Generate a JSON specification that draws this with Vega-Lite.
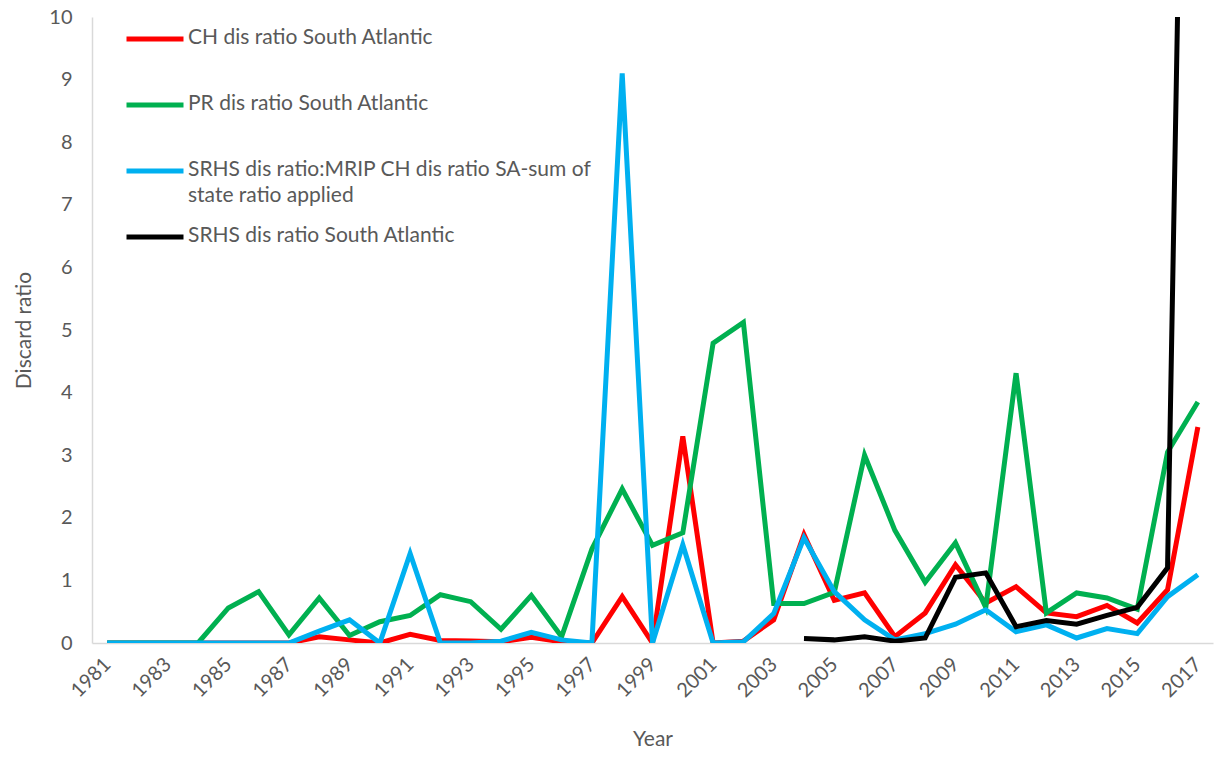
{
  "$schema": "https://vega.github.io/schema/vega-lite/v6.json",
  "width": 1121,
  "height": 626,
  "autosize": {"type": "none"},
  "padding": {"left": 92, "top": 17, "right": 4, "bottom": 114},
  "background": "white",
  "config": {
    "view": {"stroke": null},
    "font": "Lato, sans-serif"
  },
  "data": {
    "values": [
      {"year":1981,"series":"CH dis ratio South Atlantic","value":0},
      {"year":1982,"series":"CH dis ratio South Atlantic","value":0},
      {"year":1983,"series":"CH dis ratio South Atlantic","value":0},
      {"year":1984,"series":"CH dis ratio South Atlantic","value":0},
      {"year":1985,"series":"CH dis ratio South Atlantic","value":0},
      {"year":1986,"series":"CH dis ratio South Atlantic","value":0},
      {"year":1987,"series":"CH dis ratio South Atlantic","value":0},
      {"year":1988,"series":"CH dis ratio South Atlantic","value":0.1},
      {"year":1989,"series":"CH dis ratio South Atlantic","value":0.05},
      {"year":1990,"series":"CH dis ratio South Atlantic","value":0},
      {"year":1991,"series":"CH dis ratio South Atlantic","value":0.14},
      {"year":1992,"series":"CH dis ratio South Atlantic","value":0.04},
      {"year":1993,"series":"CH dis ratio South Atlantic","value":0.03},
      {"year":1994,"series":"CH dis ratio South Atlantic","value":0.02},
      {"year":1995,"series":"CH dis ratio South Atlantic","value":0.09},
      {"year":1996,"series":"CH dis ratio South Atlantic","value":0.02},
      {"year":1997,"series":"CH dis ratio South Atlantic","value":0},
      {"year":1998,"series":"CH dis ratio South Atlantic","value":0.74},
      {"year":1999,"series":"CH dis ratio South Atlantic","value":0},
      {"year":2000,"series":"CH dis ratio South Atlantic","value":3.3},
      {"year":2001,"series":"CH dis ratio South Atlantic","value":0},
      {"year":2002,"series":"CH dis ratio South Atlantic","value":0.03},
      {"year":2003,"series":"CH dis ratio South Atlantic","value":0.37},
      {"year":2004,"series":"CH dis ratio South Atlantic","value":1.73},
      {"year":2005,"series":"CH dis ratio South Atlantic","value":0.68},
      {"year":2006,"series":"CH dis ratio South Atlantic","value":0.8},
      {"year":2007,"series":"CH dis ratio South Atlantic","value":0.1},
      {"year":2008,"series":"CH dis ratio South Atlantic","value":0.48},
      {"year":2009,"series":"CH dis ratio South Atlantic","value":1.25},
      {"year":2010,"series":"CH dis ratio South Atlantic","value":0.64},
      {"year":2011,"series":"CH dis ratio South Atlantic","value":0.9},
      {"year":2012,"series":"CH dis ratio South Atlantic","value":0.48},
      {"year":2013,"series":"CH dis ratio South Atlantic","value":0.42},
      {"year":2014,"series":"CH dis ratio South Atlantic","value":0.6},
      {"year":2015,"series":"CH dis ratio South Atlantic","value":0.32},
      {"year":2016,"series":"CH dis ratio South Atlantic","value":0.85},
      {"year":2017,"series":"CH dis ratio South Atlantic","value":3.45},

      {"year":1981,"series":"PR dis ratio South Atlantic","value":0},
      {"year":1982,"series":"PR dis ratio South Atlantic","value":0},
      {"year":1983,"series":"PR dis ratio South Atlantic","value":0},
      {"year":1984,"series":"PR dis ratio South Atlantic","value":0},
      {"year":1985,"series":"PR dis ratio South Atlantic","value":0.56},
      {"year":1986,"series":"PR dis ratio South Atlantic","value":0.82},
      {"year":1987,"series":"PR dis ratio South Atlantic","value":0.13},
      {"year":1988,"series":"PR dis ratio South Atlantic","value":0.72},
      {"year":1989,"series":"PR dis ratio South Atlantic","value":0.12},
      {"year":1990,"series":"PR dis ratio South Atlantic","value":0.34},
      {"year":1991,"series":"PR dis ratio South Atlantic","value":0.44},
      {"year":1992,"series":"PR dis ratio South Atlantic","value":0.77},
      {"year":1993,"series":"PR dis ratio South Atlantic","value":0.66},
      {"year":1994,"series":"PR dis ratio South Atlantic","value":0.22},
      {"year":1995,"series":"PR dis ratio South Atlantic","value":0.76},
      {"year":1996,"series":"PR dis ratio South Atlantic","value":0.1},
      {"year":1997,"series":"PR dis ratio South Atlantic","value":1.5},
      {"year":1998,"series":"PR dis ratio South Atlantic","value":2.46},
      {"year":1999,"series":"PR dis ratio South Atlantic","value":1.56},
      {"year":2000,"series":"PR dis ratio South Atlantic","value":1.76},
      {"year":2001,"series":"PR dis ratio South Atlantic","value":4.79},
      {"year":2002,"series":"PR dis ratio South Atlantic","value":5.12},
      {"year":2003,"series":"PR dis ratio South Atlantic","value":0.63},
      {"year":2004,"series":"PR dis ratio South Atlantic","value":0.63},
      {"year":2005,"series":"PR dis ratio South Atlantic","value":0.81},
      {"year":2006,"series":"PR dis ratio South Atlantic","value":3.0},
      {"year":2007,"series":"PR dis ratio South Atlantic","value":1.8},
      {"year":2008,"series":"PR dis ratio South Atlantic","value":0.97},
      {"year":2009,"series":"PR dis ratio South Atlantic","value":1.6},
      {"year":2010,"series":"PR dis ratio South Atlantic","value":0.57},
      {"year":2011,"series":"PR dis ratio South Atlantic","value":4.31},
      {"year":2012,"series":"PR dis ratio South Atlantic","value":0.48},
      {"year":2013,"series":"PR dis ratio South Atlantic","value":0.8},
      {"year":2014,"series":"PR dis ratio South Atlantic","value":0.72},
      {"year":2015,"series":"PR dis ratio South Atlantic","value":0.54},
      {"year":2016,"series":"PR dis ratio South Atlantic","value":3.05},
      {"year":2017,"series":"PR dis ratio South Atlantic","value":3.85},

      {"year":1981,"series":"SRHS dis ratio:MRIP CH dis ratio SA-sum of state ratio applied","value":0},
      {"year":1982,"series":"SRHS dis ratio:MRIP CH dis ratio SA-sum of state ratio applied","value":0},
      {"year":1983,"series":"SRHS dis ratio:MRIP CH dis ratio SA-sum of state ratio applied","value":0},
      {"year":1984,"series":"SRHS dis ratio:MRIP CH dis ratio SA-sum of state ratio applied","value":0},
      {"year":1985,"series":"SRHS dis ratio:MRIP CH dis ratio SA-sum of state ratio applied","value":0},
      {"year":1986,"series":"SRHS dis ratio:MRIP CH dis ratio SA-sum of state ratio applied","value":0},
      {"year":1987,"series":"SRHS dis ratio:MRIP CH dis ratio SA-sum of state ratio applied","value":0},
      {"year":1988,"series":"SRHS dis ratio:MRIP CH dis ratio SA-sum of state ratio applied","value":0.19},
      {"year":1989,"series":"SRHS dis ratio:MRIP CH dis ratio SA-sum of state ratio applied","value":0.37},
      {"year":1990,"series":"SRHS dis ratio:MRIP CH dis ratio SA-sum of state ratio applied","value":0},
      {"year":1991,"series":"SRHS dis ratio:MRIP CH dis ratio SA-sum of state ratio applied","value":1.43},
      {"year":1992,"series":"SRHS dis ratio:MRIP CH dis ratio SA-sum of state ratio applied","value":0},
      {"year":1993,"series":"SRHS dis ratio:MRIP CH dis ratio SA-sum of state ratio applied","value":0},
      {"year":1994,"series":"SRHS dis ratio:MRIP CH dis ratio SA-sum of state ratio applied","value":0.03},
      {"year":1995,"series":"SRHS dis ratio:MRIP CH dis ratio SA-sum of state ratio applied","value":0.17},
      {"year":1996,"series":"SRHS dis ratio:MRIP CH dis ratio SA-sum of state ratio applied","value":0.05},
      {"year":1997,"series":"SRHS dis ratio:MRIP CH dis ratio SA-sum of state ratio applied","value":0},
      {"year":1998,"series":"SRHS dis ratio:MRIP CH dis ratio SA-sum of state ratio applied","value":9.1},
      {"year":1999,"series":"SRHS dis ratio:MRIP CH dis ratio SA-sum of state ratio applied","value":0},
      {"year":2000,"series":"SRHS dis ratio:MRIP CH dis ratio SA-sum of state ratio applied","value":1.57},
      {"year":2001,"series":"SRHS dis ratio:MRIP CH dis ratio SA-sum of state ratio applied","value":0},
      {"year":2002,"series":"SRHS dis ratio:MRIP CH dis ratio SA-sum of state ratio applied","value":0.02},
      {"year":2003,"series":"SRHS dis ratio:MRIP CH dis ratio SA-sum of state ratio applied","value":0.47},
      {"year":2004,"series":"SRHS dis ratio:MRIP CH dis ratio SA-sum of state ratio applied","value":1.68},
      {"year":2005,"series":"SRHS dis ratio:MRIP CH dis ratio SA-sum of state ratio applied","value":0.82},
      {"year":2006,"series":"SRHS dis ratio:MRIP CH dis ratio SA-sum of state ratio applied","value":0.37},
      {"year":2007,"series":"SRHS dis ratio:MRIP CH dis ratio SA-sum of state ratio applied","value":0.05},
      {"year":2008,"series":"SRHS dis ratio:MRIP CH dis ratio SA-sum of state ratio applied","value":0.15},
      {"year":2009,"series":"SRHS dis ratio:MRIP CH dis ratio SA-sum of state ratio applied","value":0.3},
      {"year":2010,"series":"SRHS dis ratio:MRIP CH dis ratio SA-sum of state ratio applied","value":0.53},
      {"year":2011,"series":"SRHS dis ratio:MRIP CH dis ratio SA-sum of state ratio applied","value":0.18},
      {"year":2012,"series":"SRHS dis ratio:MRIP CH dis ratio SA-sum of state ratio applied","value":0.29},
      {"year":2013,"series":"SRHS dis ratio:MRIP CH dis ratio SA-sum of state ratio applied","value":0.08},
      {"year":2014,"series":"SRHS dis ratio:MRIP CH dis ratio SA-sum of state ratio applied","value":0.23},
      {"year":2015,"series":"SRHS dis ratio:MRIP CH dis ratio SA-sum of state ratio applied","value":0.15},
      {"year":2016,"series":"SRHS dis ratio:MRIP CH dis ratio SA-sum of state ratio applied","value":0.74},
      {"year":2017,"series":"SRHS dis ratio:MRIP CH dis ratio SA-sum of state ratio applied","value":1.09},

      {"year":2004,"series":"SRHS dis ratio South Atlantic","value":0.07},
      {"year":2005,"series":"SRHS dis ratio South Atlantic","value":0.05},
      {"year":2006,"series":"SRHS dis ratio South Atlantic","value":0.1},
      {"year":2007,"series":"SRHS dis ratio South Atlantic","value":0.03},
      {"year":2008,"series":"SRHS dis ratio South Atlantic","value":0.08},
      {"year":2009,"series":"SRHS dis ratio South Atlantic","value":1.05},
      {"year":2010,"series":"SRHS dis ratio South Atlantic","value":1.12},
      {"year":2011,"series":"SRHS dis ratio South Atlantic","value":0.26},
      {"year":2012,"series":"SRHS dis ratio South Atlantic","value":0.36},
      {"year":2013,"series":"SRHS dis ratio South Atlantic","value":0.3},
      {"year":2014,"series":"SRHS dis ratio South Atlantic","value":0.44},
      {"year":2015,"series":"SRHS dis ratio South Atlantic","value":0.57},
      {"year":2016,"series":"SRHS dis ratio South Atlantic","value":1.2},
      {"year":2017,"series":"SRHS dis ratio South Atlantic","value":28}
    ]
  },
  "mark": {"type": "line", "strokeWidth": 5, "clip": true, "strokeJoin": "miter"},
  "encoding": {
    "x": {
      "field": "year",
      "type": "quantitative",
      "scale": {"domain": [1980.5, 2017.5], "nice": false, "zero": false},
      "axis": {
        "title": "Year",
        "values": [1981,1983,1985,1987,1989,1991,1993,1995,1997,1999,2001,2003,2005,2007,2009,2011,2013,2015,2017],
        "format": "d",
        "labelAngle": -45,
        "labelAlign": "right",
        "labelBaseline": "middle",
        "labelFontSize": 20,
        "labelColor": "#595959",
        "labelPadding": 18,
        "ticks": false,
        "grid": false,
        "domainColor": "#d9d9d9",
        "domainWidth": 1.5,
        "titleFontSize": 21,
        "titleFontWeight": "normal",
        "titleColor": "#595959",
        "titlePadding": 28
      }
    },
    "y": {
      "field": "value",
      "type": "quantitative",
      "scale": {"domain": [0, 10], "nice": false},
      "axis": {
        "title": "Discard ratio",
        "values": [0,1,2,3,4,5,6,7,8,9,10],
        "labelFontSize": 20,
        "labelColor": "#595959",
        "labelPadding": 20,
        "ticks": false,
        "grid": false,
        "domainColor": "#d9d9d9",
        "domainWidth": 1.5,
        "titleFontSize": 21,
        "titleFontWeight": "normal",
        "titleColor": "#595959",
        "titlePadding": 14
      }
    },
    "color": {
      "field": "series",
      "type": "nominal",
      "sort": ["CH dis ratio South Atlantic","PR dis ratio South Atlantic","SRHS dis ratio:MRIP CH dis ratio SA-sum of state ratio applied","SRHS dis ratio South Atlantic"],
      "scale": {
        "domain": ["CH dis ratio South Atlantic","PR dis ratio South Atlantic","SRHS dis ratio:MRIP CH dis ratio SA-sum of state ratio applied","SRHS dis ratio South Atlantic"],
        "range": ["#ff0000","#00b050","#00b0f0","#000000"]
      },
      "legend": {
        "title": null,
        "orient": "none",
        "legendX": 32,
        "legendY": -9,
        "gridAlign": "all",
        "symbolType": "stroke",
        "symbolSize": 3249,
        "symbolStrokeWidth": 5,
        "labelFontSize": 21,
        "labelColor": "#595959",
        "labelLimit": 600,
        "labelOffset": 2,
        "labelBaseline": "top",
        "rowPadding": 0,
        "labelExpr": "datum.label == 'SRHS dis ratio:MRIP CH dis ratio SA-sum of state ratio applied' ? ['SRHS dis ratio:MRIP CH dis ratio SA-sum of', 'state ratio applied'] : datum.label",
        "encode": {
          "labels": {"update": {"dy": {"value": -12}, "lineHeight": {"value": 26}}}
        }
      }
    },
    "order": {"field": "year", "type": "quantitative"}
  }
}
